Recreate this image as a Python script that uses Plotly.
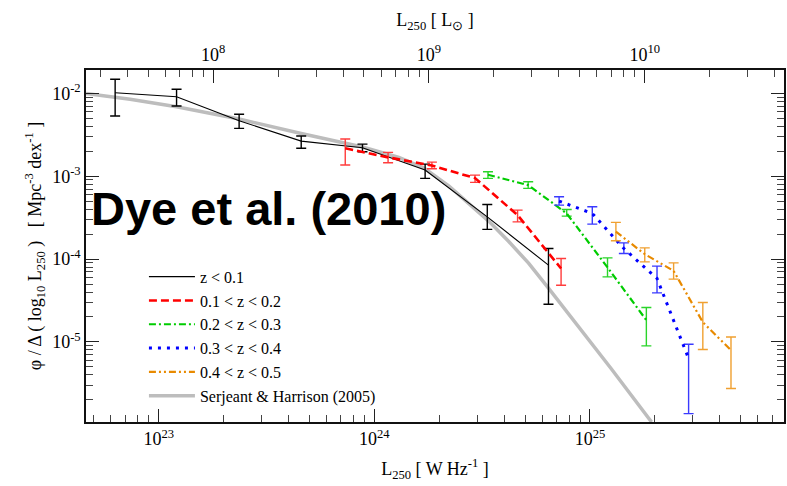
import plotly.graph_objects as go

# 250-micron luminosity function per redshift slice.
# L in W Hz^-1, phi in Mpc^-3 dex^-1, with upper / lower 1-sigma bounds.
L_z1 = [6.28e22, 1.21e23, 2.36e23, 4.58e23, 8.81e23, 1.72e24, 3.34e24, 6.42e24]
phi_z1 = [1.017e-2, 9.10e-3, 4.67e-3, 2.65e-3, 2.20e-3, 1.185e-3, 3.23e-4, 8.44e-5]
hi_z1 = [1.476e-2, 1.118e-2, 5.58e-3, 3.05e-3, 2.44e-3, 1.40e-3, 4.56e-4, 1.34e-4]
lo_z1 = [5.32e-3, 7.03e-3, 3.78e-3, 2.17e-3, 1.97e-3, 9.41e-4, 2.28e-4, 2.85e-5]

L_z2 = [7.33e23, 1.158e24, 1.849e24, 2.931e24, 4.616e24, 7.345e24]
phi_z2 = [2.17e-3, 1.687e-3, 1.343e-3, 9.49e-4, 3.39e-4, 7.70e-5]
hi_z2 = [2.81e-3, 1.939e-3, 1.480e-3, 1.031e-3, 3.90e-4, 1.017e-4]
lo_z2 = [1.362e-3, 1.451e-3, 1.228e-3, 8.42e-4, 2.81e-4, 4.84e-5]

L_z3 = [3.365e24, 5.17e24, 7.80e24, 1.206e25, 1.826e25]
phi_z3 = [1.04e-3, 7.81e-4, 3.55e-4, 7.92e-5, 1.83e-5]
hi_z3 = [1.130e-3, 8.56e-4, 3.97e-4, 1.034e-4, 2.60e-5]
lo_z3 = [9.41e-4, 7.12e-4, 3.30e-4, 6.10e-5, 8.95e-6]

L_z4 = [7.19e24, 1.025e25, 1.436e25, 2.046e25, 2.867e25]
phi_z4 = [5.00e-4, 3.55e-4, 1.34e-4, 5.83e-5, 6.30e-6]
hi_z4 = [5.64e-4, 4.27e-4, 1.569e-4, 8.21e-5, 9.38e-6]
lo_z4 = [4.48e-4, 2.64e-4, 1.169e-4, 3.91e-5, 1.365e-6]

L_z5 = [1.319e25, 1.795e25, 2.443e25, 3.337e25, 4.508e25]
phi_z5 = [2.14e-4, 1.146e-4, 7.20e-5, 1.73e-5, 7.94e-6]
hi_z5 = [2.77e-4, 1.365e-4, 9.00e-5, 2.99e-5, 1.149e-5]
lo_z5 = [1.66e-4, 9.25e-5, 5.72e-5, 8.09e-6, 2.74e-6]

# Serjeant & Harrison (2005) model curve
L_sh = [4.60e22, 7.37e22, 1.21e23, 2.36e23, 4.58e23, 8.81e23, 1.30e24, 1.70e24,
        2.22e24, 2.74e24, 3.39e24, 4.19e24, 5.19e24, 6.42e24, 8.83e24, 1.25e25, 1.93e25]
phi_sh = [9.95e-3, 8.46e-3, 6.89e-3, 4.89e-3, 3.27e-3, 2.25e-3, 1.68e-3, 1.25e-3,
          7.59e-4, 4.73e-4, 2.87e-4, 1.64e-4, 8.92e-5, 4.45e-5, 1.55e-5, 4.81e-6, 1.08e-6]

series_names = ["z < 0.1", "0.1 < z < 0.2", "0.2 < z < 0.3", "0.3 < z < 0.4", "0.4 < z < 0.5"]
model_name = "Serjeant & Harrison (2005)"

# axis decades and labels
x_decades = [23, 24, 25]
x_range_log = [22.6628, 25.8998]
top_decades = [8, 9, 10]
top_range_log = [7.4112, 10.6451]
y_decades = [-2, -3, -4, -5]
y_range_log = [-5.9662, -1.7186]

styles = [
    dict(color="#000000", err="#000000", width=1.1, dash="solid"),
    dict(color="#ff0000", err="#ff3c3c", width=2.6, dash="8px,4px"),
    dict(color="#00cc00", err="#2ad42a", width=2.2, dash="7px,3px,2px,3px"),
    dict(color="#0000ff", err="#3a3aff", width=3.0, dash="3px,6px"),
    dict(color="#e88a00", err="#f0a030", width=2.2, dash="7px,3px,2px,3px,2px,3px"),
]

data = [
    (L_z1, phi_z1, hi_z1, lo_z1),
    (L_z2, phi_z2, hi_z2, lo_z2),
    (L_z3, phi_z3, hi_z3, lo_z3),
    (L_z4, phi_z4, hi_z4, lo_z4),
    (L_z5, phi_z5, hi_z5, lo_z5),
]

fig = go.Figure()

# model curve first so the measurements sit on top of it
fig.add_trace(go.Scatter(
    x=L_sh, y=phi_sh, mode="lines", name=model_name,
    line=dict(color="#bdbdbd", width=3.5), legendrank=6,
))

for i, ((L, phi, hi, lo), st, name) in enumerate(zip(data, styles, series_names)):
    fig.add_trace(go.Scatter(
        x=L, y=phi, mode="lines", name=name, legendrank=i + 1,
        line=dict(color=st["color"], width=st["width"], dash=st["dash"]),
        error_y=dict(
            type="data", symmetric=False,
            array=[h - p for h, p in zip(hi, phi)],
            arrayminus=[p - l for p, l in zip(phi, lo)],
            color=st["err"], thickness=1.4, width=5,
        ),
    ))

# placeholder trace so the solar-luminosity axis is registered
fig.add_trace(go.Scatter(x=[], y=[], xaxis="x2", yaxis="y", showlegend=False, hoverinfo="skip"))


def minor_vals(n_lo, n_hi):
    return [k * 10.0 ** n for n in range(n_lo, n_hi + 1) for k in range(2, 10)]


def sup_label(n):
    return "10<sup>%d</sup>" % n


axis_common = dict(
    type="log", showgrid=False, zeroline=False, showline=True,
    linecolor="#111111", linewidth=1.5,
    ticks="inside", ticklen=13, tickwidth=1.3, tickcolor="#222222",
    tickfont=dict(family="Liberation Serif", size=18, color="black"),
)

fig.update_layout(
    width=787, height=486,
    margin=dict(l=86, r=1, t=70, b=64),
    paper_bgcolor="white", plot_bgcolor="white",
    font=dict(family="Liberation Serif", size=18, color="black"),
    xaxis=dict(
        **axis_common, range=x_range_log, mirror=False,
        tickmode="array", tickvals=[10.0 ** n for n in x_decades],
        ticktext=[sup_label(n) for n in x_decades],
        minor=dict(ticks="inside", ticklen=7, tickwidth=1.2, tickcolor="#444444",
                   tickmode="array", tickvals=minor_vals(22, 25)),
        title=dict(text="L<sub>250</sub> [ W Hz<sup>-1</sup> ]",
                   font=dict(family="Liberation Serif", size=18), standoff=14),
    ),
    xaxis2=dict(
        **axis_common, range=top_range_log, overlaying="x", side="top", anchor="y",
        tickmode="array", tickvals=[10.0 ** n for n in top_decades],
        ticktext=[sup_label(n) for n in top_decades],
        minor=dict(ticks="inside", ticklen=7, tickwidth=1.2, tickcolor="#444444",
                   tickmode="array", tickvals=minor_vals(7, 10)),
        title=dict(text="L<sub>250</sub> [ L<sub>\u2299</sub> ]",
                   font=dict(family="Liberation Serif", size=18), standoff=11),
    ),
    yaxis=dict(
        **axis_common, range=y_range_log, mirror="ticks",
        tickmode="array", tickvals=[10.0 ** n for n in y_decades],
        ticktext=[sup_label(n) for n in y_decades],
        minor=dict(ticks="inside", ticklen=7, tickwidth=1.2, tickcolor="#444444",
                   tickmode="array", tickvals=minor_vals(-6, -3)),
        title=dict(text="\u03c6 / \u0394 ( log<sub>10</sub> L<sub>250</sub> )   [ Mpc<sup>-3</sup> dex<sup>-1</sup> ]",
                   font=dict(family="Liberation Serif", size=18), standoff=6),
    ),
    legend=dict(
        x=0.083, y=0.461, xanchor="left", yanchor="top",
        bgcolor="rgba(0,0,0,0)", borderwidth=0,
        font=dict(family="Liberation Serif", size=16, color="black"),
        itemwidth=46, tracegroupgap=0,
    ),
    annotations=[dict(
        text="<b>Dye et al. (2010)</b>", xref="paper", yref="paper",
        x=0.005, y=0.607, xanchor="left", yanchor="middle", showarrow=False,
        font=dict(family="Liberation Sans", size=47, color="black"),
    )],
)

fig.write_html("out.html")
